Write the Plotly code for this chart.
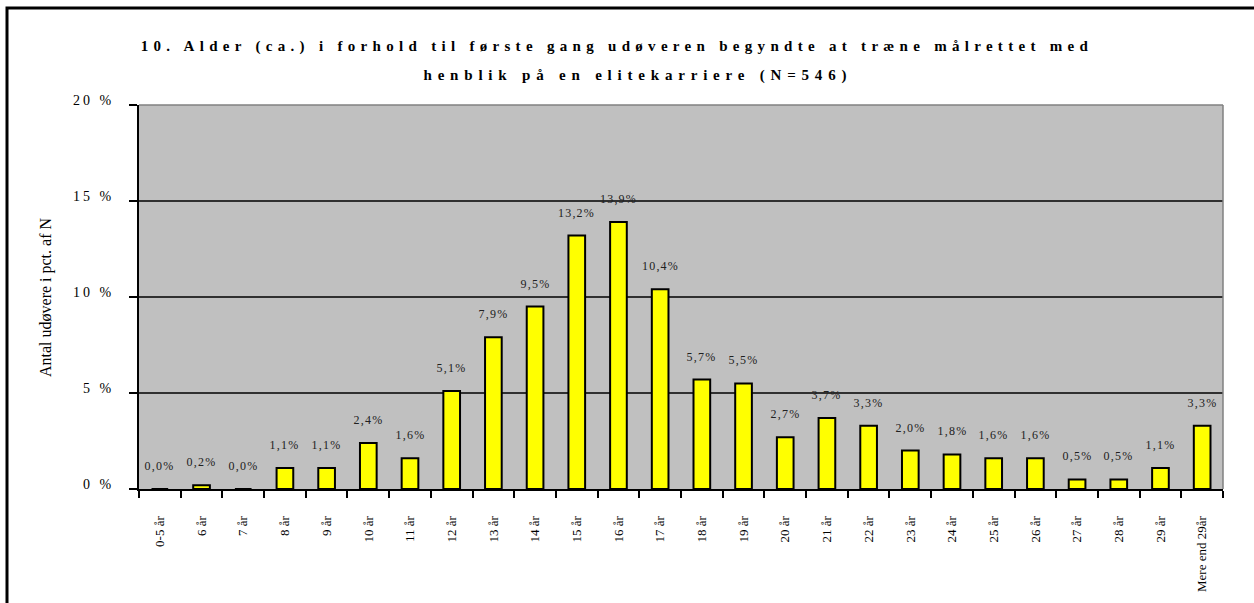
import plotly.graph_objects as go

categories = ["0-5 år", "6 år", "7 år", "8 år", "9 år", "10 år", "11 år", "12 år", "13 år",
              "14 år", "15 år", "16 år", "17 år", "18 år", "19 år", "20 år", "21 år", "22 år",
              "23 år", "24 år", "25 år", "26 år", "27 år", "28 år", "29 år", "Mere end 29år"]
values = [0.0, 0.2, 0.0, 1.1, 1.1, 2.4, 1.6, 5.1, 7.9, 9.5, 13.2, 13.9, 10.4, 5.7, 5.5,
          2.7, 3.7, 3.3, 2.0, 1.8, 1.6, 1.6, 0.5, 0.5, 1.1, 3.3]
y_ticks = [0, 5, 10, 15, 20]
y_ticktext = ["0 %", "5 %", "10 %", "15 %", "20 %"]
grid_vals = [5, 10, 15]
title_line1 = "10. Alder (ca.) i forhold til første gang udøveren begyndte at træne målrettet med"
title_line2 = "henblik på en elitekarriere (N=546)"
y_title = "Antal udøvere i pct. af N"

labels = [f"{v:.1f}".replace(".", ",") + "%" for v in values]

W, H = 1254, 603
L, R, T, B = 139, 31, 105, 114
pw, ph = W - L - R, H - T - B

def px_x(x):
    return (x - L) / pw

def px_y(y):
    return 1 + (T - y) / ph

SERIF = "Liberation Serif, Times New Roman, serif"

fig = go.Figure()
fig.add_trace(go.Bar(
    x=categories, y=values,
    marker=dict(color="#FFFF00", line=dict(color="black", width=2)),
    width=0.4,
    hoverinfo="skip",
))

annotations = []
for c, v, lab in zip(categories, values, labels):
    annotations.append(dict(x=c, y=v, xref="x", yref="y", text=lab, showarrow=False,
                            yanchor="middle", yshift=23,
                            font=dict(family=SERIF, size=12, color="#202020")))
annotations.append(dict(x=px_x(617), y=px_y(47), xref="paper", yref="paper", text=f"<b>{title_line1}</b>",
                        showarrow=False, xanchor="center", yanchor="middle",
                        font=dict(family=SERIF, size=15, color="black")))
annotations.append(dict(x=px_x(638), y=px_y(75), xref="paper", yref="paper", text=f"<b>{title_line2}</b>",
                        showarrow=False, xanchor="center", yanchor="middle",
                        font=dict(family=SERIF, size=15, color="black")))
annotations.append(dict(x=px_x(46), y=px_y(297), xref="paper", yref="paper", text=y_title,
                        showarrow=False, xanchor="center", yanchor="middle", textangle=-90,
                        font=dict(family=SERIF, size=16, color="black")))

shapes = []
for g in grid_vals:
    shapes.append(dict(type="line", xref="paper", yref="y", x0=0, x1=1, y0=g, y1=g,
                       line=dict(color="black", width=1.5), layer="below"))
shapes.append(dict(type="line", xref="paper", yref="paper", x0=0, x1=1, y0=1, y1=1,
                   line=dict(color="#808080", width=1.5)))
shapes.append(dict(type="line", xref="paper", yref="paper", x0=1, x1=1, y0=0, y1=1,
                   line=dict(color="#808080", width=1.5)))
shapes.append(dict(type="rect", xref="paper", yref="paper", x0=px_x(7), x1=px_x(1270),
                   y0=px_y(620), y1=px_y(8), line=dict(color="black", width=3)))

fig.update_layout(
    width=W, height=H,
    margin=dict(l=L, r=R, t=T, b=B, pad=0),
    paper_bgcolor="white",
    plot_bgcolor="#C0C0C0",
    showlegend=False,
    annotations=annotations,
    shapes=shapes,
    xaxis=dict(type="category", tickson="boundaries", ticks="outside", ticklen=7, tickwidth=2,
               tickcolor="black", showline=True, linecolor="black", linewidth=2,
               tickangle=-90, tickfont=dict(family=SERIF, size=13, color="black"),
               showgrid=False, ticklabelstandoff=20, range=[-0.5, len(categories) - 0.5]),
    yaxis=dict(range=[0, 20], tickvals=y_ticks, ticktext=y_ticktext, ticks="outside", ticklen=8,
               tickwidth=2, tickcolor="black", showline=True, linecolor="black", linewidth=2,
               showgrid=False, zeroline=False, ticklabelstandoff=12, ticklabelshift=-5,
               tickfont=dict(family=SERIF, size=14, color="black")),
)

post = """
(function(){
  document.body.style.margin = '0';
  document.body.style.overflow = 'hidden';
  var gd = document.getElementById('{plot_id}');
  function fix(){
    gd.querySelectorAll('.annotation-text').forEach(function(e){
      var t = e.textContent;
      if (t.indexOf('%') >= 0) { e.style.letterSpacing = '1.2px'; }
      else if (t.indexOf('Antal') === 0) { }
      else if (t.indexOf('henblik') === 0) { e.style.letterSpacing = '5.8px'; }
      else { e.style.letterSpacing = '5.3px'; }
    });
    gd.querySelectorAll('.ytick text').forEach(function(e){ e.style.letterSpacing = '3px'; });
  }
  fix();
  gd.on('plotly_afterplot', fix);
})();
"""
fig.write_html("out.html", post_script=post, config={"displayModeBar": False})
